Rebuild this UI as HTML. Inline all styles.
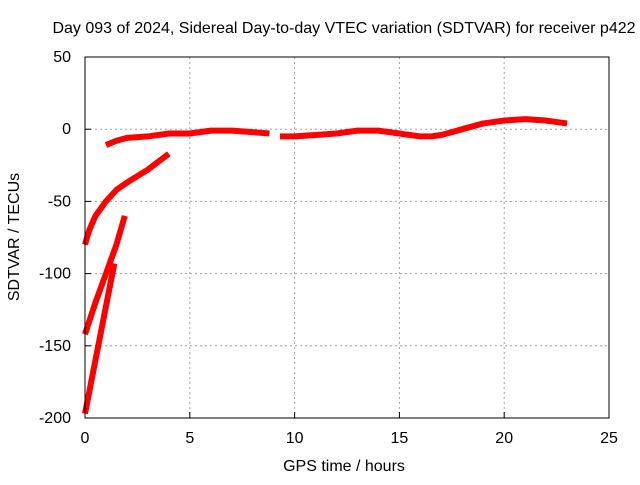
<!DOCTYPE html>
<html><head><meta charset="utf-8"><style>
body{margin:0;background:#fff;font-family:"Liberation Sans",sans-serif;}
</style></head><body>
<svg id="c" width="640" height="480" font-family="Liberation Sans, sans-serif" font-size="16">
<rect width="640" height="480" fill="#fff"/>
<text x="344" y="33" text-anchor="middle">Day 093 of 2024, Sidereal Day-to-day VTEC variation (SDTVAR) for receiver p422</text>
<text x="344" y="471" text-anchor="middle">GPS time / hours</text>
<text transform="translate(19,237) rotate(-90)" text-anchor="middle">SDTVAR / TECUs</text>
<g id="grid"></g><g id="ticks"></g><g id="series"></g>
<rect x="85" y="57" width="524" height="361" fill="none" stroke="#000" stroke-width="1"/>
</svg>
<script>
const xTicks=[0,5,10,15,20,25];
const yTicks=[50,0,-50,-100,-150,-200];
const mainHours=[1,1.5,2,3,4,5,6,7,8,8.8];
const mainVals=[-11,-8,-6,-5,-3,-3,-1,-1,-2,-3];
const lateHours=[9.3,10,11,12,13,14,15,16,16.5,17,18,19,20,21,22,23];
const lateVals=[-5,-5,-4,-3,-1,-1,-3,-5,-5,-4,0,4,6,7,6,4];
const b2Hours=[0,0.2,0.5,1,1.5,2,3,4];
const b2Vals=[-80,-70,-60,-50,-42,-37,-28,-17];
const c3Hours=[0,0.5,1,1.5,1.9];
const c3Vals=[-142,-120,-100,-80,-60];
const d4Hours=[0,0.7,1.4];
const d4Vals=[-197,-145,-93];
const X=h=>85+h*524/25, Y=v=>129.2-v*361/250;
const ns="http://www.w3.org/2000/svg";
const g=document.getElementById('grid'),t=document.getElementById('ticks'),s=document.getElementById('series');
function el(n,a,p){const e=document.createElementNS(ns,n);for(const k in a)e.setAttribute(k,a[k]);p.appendChild(e);return e;}
xTicks.forEach(v=>{
 if(v>0&&v<25){const l=el('line',{x1:X(v),x2:X(v),y1:57,y2:418,stroke:'#a0a0a0','stroke-dasharray':'2,3'},g);
 
 }
 const tk=el('line',{x1:X(v),x2:X(v),y1:418,y2:412,stroke:'#000'},t);
 
 
 const tx=el('text',{x:X(v),y:443,'text-anchor':'middle'},t);tx.textContent=v;
 
 
});
yTicks.forEach(v=>{
 if(v<50&&v>-200){const l=el('line',{x1:85,x2:609,y1:Y(v),y2:Y(v),stroke:'#a0a0a0','stroke-dasharray':'2,3'},g);
 
 }
 const tk=el('line',{x1:85,x2:91,y1:Y(v),y2:Y(v),stroke:'#000'},t);
 
 
 const tx=el('text',{x:71,y:Y(v)+5,'text-anchor':'end'},t);tx.textContent=v;
 
 
});
function series(hs,vs,name){
 const p=el('polyline',{points:hs.map((h,i)=>X(h)+','+Y(vs[i])).join(' '),fill:'none',stroke:'#ff0000','stroke-width':6,'stroke-linejoin':'round'},s);
 
 
}
series(mainHours,mainVals,'series-main');
series(lateHours,lateVals,'series-main-late');
series(b2Hours,b2Vals,'series-arc-2');
series(c3Hours,c3Vals,'series-arc-3');
series(d4Hours,d4Vals,'series-arc-4');
</script>
</body></html>
